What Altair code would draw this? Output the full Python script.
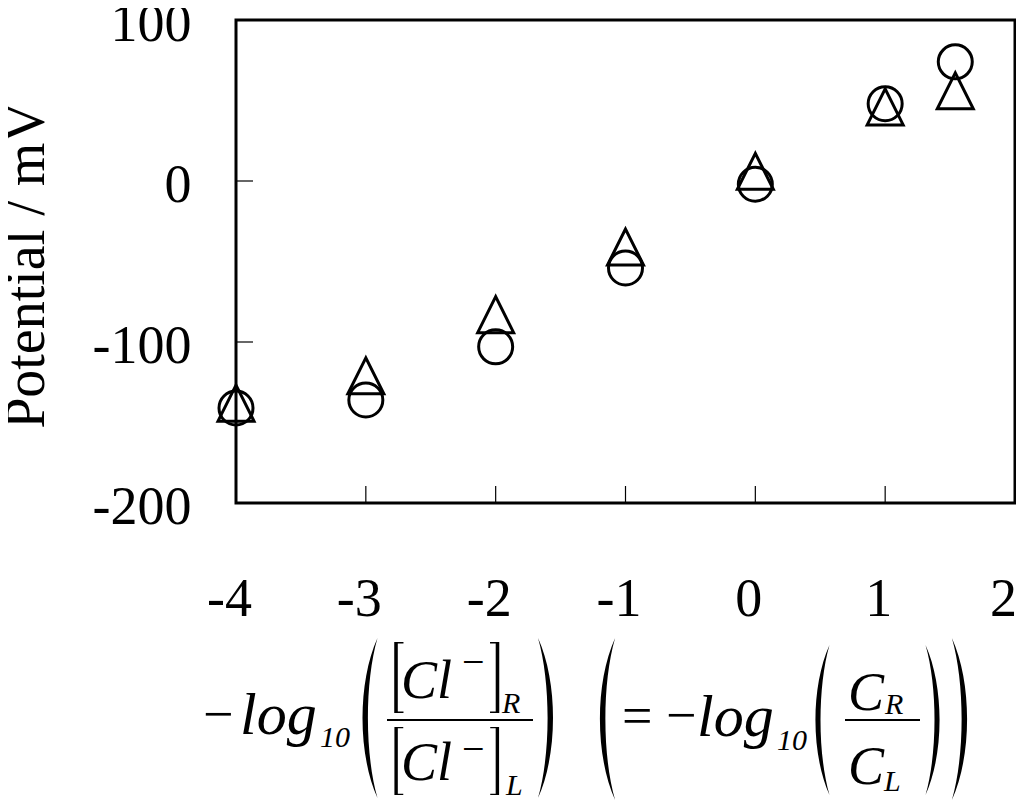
import altair as alt
import pandas as pd

# ---------------- data ----------------
x_vals = [-4, -3, -2, -1, 0, 1, 1.54]
circle_vals = [-141, -136, -103, -54, -2, 48, 74]
triangle_vals = [-138, -121, -83, -41, 6, 46, 56]
x_ticks = [-4, -3, -2, -1, 0, 1, 2]
y_ticks = [-200, -100, 0, 100]
y_title = "Potential / mV"

# ---------------- layout ----------------
FONT = "Liberation Serif"
W, H = 779, 483
PAD_L, PAD_T = 228, 12
OX, OY = 8 + PAD_L, 8 + PAD_T   # page position of plot origin
TICK = 17

TRI = "M0,-1L-1,1L1,1Z"
HTICK = "M0,0L1,0"          # horizontal inward tick (from the axis to the right)
VTICK = "M0,0L0,-1"         # vertical inward tick (from the axis upwards)
PAREN_L = "M0.1,-1C-0.15,-0.45,-0.15,0.45,0.1,1C-0.06,0.45,-0.06,-0.45,0.1,-1Z"
PAREN_R = "M-0.1,-1C0.15,-0.45,0.15,0.45,-0.1,1C0.06,0.45,0.06,-0.45,-0.1,-1Z"
BRK_L = "M-0.12,-1L0.14,-1L0.14,-0.96L-0.02,-0.96L-0.02,0.96L0.14,0.96L0.14,1L-0.12,1Z"
BRK_R = "M0.12,-1L-0.14,-1L-0.14,-0.96L0.02,-0.96L0.02,0.96L-0.14,0.96L-0.14,1L0.12,1Z"

df = pd.DataFrame({
    "x": x_vals + x_vals,
    "y": circle_vals + triangle_vals,
    "series": ["circle"] * len(x_vals) + ["triangle"] * len(x_vals),
})
xt_df = pd.DataFrame({"t": x_ticks})
yt_df = pd.DataFrame({"t": y_ticks})
one = pd.DataFrame({"k": [0]})

xs = alt.Scale(domain=[-4, 2], nice=False, zero=False)
ys = alt.Scale(domain=[-200, 100], nice=False, zero=False)

xaxis = alt.Axis(values=x_ticks, labelExpr="'' + datum.value", ticks=False, tickSize=0,
                 domain=False, grid=False, labelFont=FONT, labelFontSize=54,
                 labelColor="black", labelBaseline="alphabetic", labelPadding=112,
                 labelOffset={"condition": {"test": "datum.value >= 2", "value": -12},
                              "value": -7},
                 labelFlush=False, labelOverlap=False, title=None)
yaxis = alt.Axis(values=y_ticks, labelExpr="'' + datum.value", ticks=False, tickSize=0,
                 domain=False, grid=False, labelFont=FONT, labelFontSize=54,
                 labelColor="black", labelBaseline="alphabetic", labelOffset=20,
                 labelPadding=45, labelAlign="right", labelFlush=False, labelOverlap=False,
                 title=y_title, titleFont=FONT, titleFontSize=56, titleFontWeight="normal",
                 titleColor="black", titleAngle=270, titleX=43 - OX, titleY=265 - OY,
                 titleAlign="center", titleBaseline="alphabetic")

X = alt.X("x:Q", scale=xs, axis=xaxis)
Y = alt.Y("y:Q", scale=ys, axis=yaxis)

circles = alt.Chart(df).transform_filter("datum.series == 'circle'").mark_point(
    shape="circle", size=1156, filled=False, color="black", strokeWidth=3, opacity=1
).encode(x=X, y=Y)

triangles = alt.Chart(df).transform_filter("datum.series == 'triangle'").mark_point(
    shape=TRI, size=1296, filled=False, color="black", strokeWidth=3, opacity=1
).encode(x=X, y=Y)

# inward tick marks, drawn as one-sided line symbols
xticks = alt.Chart(xt_df).mark_point(
    shape=VTICK, size=(2 * TICK) ** 2, filled=False, color="black", strokeWidth=1.2, opacity=1
).encode(x=alt.X("t:Q", scale=xs, axis=xaxis), y=alt.value(H))
yticks = alt.Chart(yt_df).mark_point(
    shape=HTICK, size=(2 * TICK) ** 2, filled=False, color="black", strokeWidth=1.2, opacity=1
).encode(y=alt.Y("t:Q", scale=ys, axis=yaxis), x=alt.value(0))

layers = [xticks, yticks, circles, triangles]

# ---------------- x-axis title: formula built from text pieces ----------------
# (text, page x, page baseline y, font size, italic)
pieces = [
    ("\u2212", 203, 732, 54, False),
    ("log", 240, 734, 60, True),
    ("10", 320, 747, 30, True),
    ("Cl", 401, 698, 54, True),
    ("\u2212", 462, 675, 40, False),
    ("R", 502, 713, 30, True),
    ("Cl", 401, 780, 54, True),
    ("\u2212", 462, 762, 40, False),
    ("L", 506, 795, 30, True),
    ("=", 622, 734, 54, False),
    ("\u2212", 666, 733, 54, False),
    ("log", 697, 736, 60, True),
    ("10", 777, 750, 30, True),
    ("C", 848, 710, 54, True),
    ("R", 885, 714, 30, True),
    ("C", 848, 784, 54, True),
    ("L", 884, 791, 30, True),
]
for txt, px, py, fs, it in pieces:
    layers.append(
        alt.Chart(one).mark_text(text=txt, font=FONT, fontSize=fs,
                                 fontStyle="italic" if it else "normal",
                                 align="left", baseline="alphabetic", color="black")
        .encode(x=alt.value(px - OX), y=alt.value(py - OY))
    )

# (shape, page cx, page cy, height)
glyphs = [
    (PAREN_L, 369.5, 718, 160),
    (BRK_L, 398.5, 677.5, 71),
    (BRK_R, 495, 677.5, 71),
    (BRK_L, 398.5, 761, 68),
    (BRK_R, 495, 761, 68),
    (PAREN_R, 546, 718, 160),
    (PAREN_L, 607, 719, 162),
    (PAREN_L, 822, 720, 150),
    (PAREN_R, 933, 720, 150),
    (PAREN_R, 960, 719, 162),
]
for shp, cx, cy, h in glyphs:
    layers.append(
        alt.Chart(one).mark_point(shape=shp, size=h * h, filled=True, color="black",
                                  strokeWidth=0, opacity=1)
        .encode(x=alt.value(cx - OX), y=alt.value(cy - OY))
    )

# fraction bars: (page x1, page x2, page y)
bars = [(387, 533, 720), (845, 920, 720)]
for x1, x2, yy in bars:
    layers.append(
        alt.Chart(one).mark_rule(color="black", strokeWidth=2)
        .encode(x=alt.value(x1 - OX), x2=alt.value(x2 - OX), y=alt.value(yy - OY))
    )

chart = alt.layer(*layers).properties(
    width=W, height=H,
    padding={"left": PAD_L, "top": PAD_T, "right": 1, "bottom": 300},
    autosize=alt.AutoSizeParams(type="none"),
).configure(font=FONT).configure_view(stroke="black", strokeWidth=3)

chart.save("out.html", embed_options={"renderer": "svg", "actions": False})
